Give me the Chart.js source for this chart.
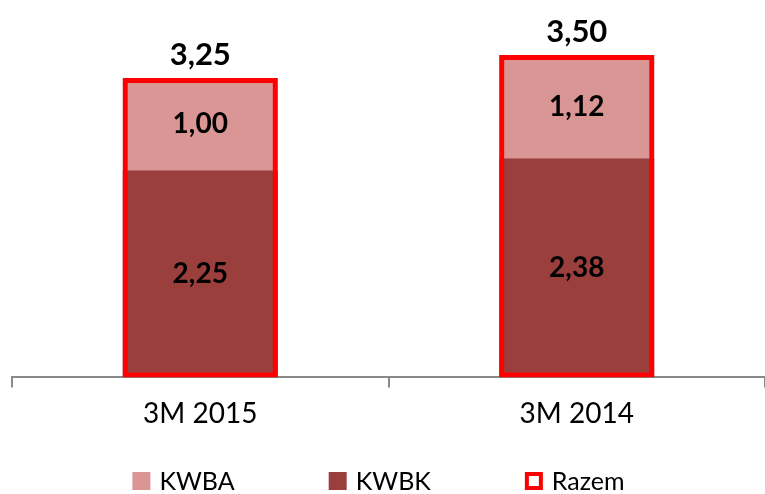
<!DOCTYPE html>
<html>
<head>
<meta charset="utf-8">
<script src="https://cdn.jsdelivr.net/npm/chart.js@4.4.1/dist/chart.umd.min.js"></script>
<style>
  html, body { margin: 0; padding: 0; background: #fff; }
  #wrap { width: 765px; height: 494px; }
</style>
</head>
<body>
<div id="wrap"><canvas id="chart"></canvas></div>
<script>
const categories = ["3M 2015", "3M 2014"];
const kwbkValues = [2.25, 2.38];
const kwbaValues = [1.00, 1.12];
const totalValues = [3.25, 3.50];
const legendOrder = ["KWBA", "KWBK", "Razem"];

const FONT = "Lato, 'Open Sans', sans-serif";
Chart.defaults.font.family = FONT;

function fmt(v) {
  return v.toFixed(2).replace(".", ",");
}

// value labels inside segments and totals above the red box
const valueLabels = {
  id: "valueLabels",
  afterDatasetsDraw(chart) {
    const ctx = chart.ctx;
    ctx.save();
    ctx.fillStyle = "#000";
    ctx.textAlign = "center";
    chart.data.datasets.forEach((ds, i) => {
      const meta = chart.getDatasetMeta(i);
      meta.data.forEach((bar, j) => {
        const v = ds.data[j];
        if (ds.label === "Razem") {
          ctx.font = "bold 31px " + FONT;
          ctx.textBaseline = "alphabetic";
          ctx.fillText(fmt(v), bar.x, bar.y - 13);
        } else {
          ctx.font = "bold 28px " + FONT;
          ctx.textBaseline = "middle";
          ctx.fillText(fmt(v), bar.x, (bar.y + bar.base) / 2);
        }
      });
    });
    ctx.restore();
  }
};

// legend drawn by hand so the wide gaps between items don't add height
const bottomLegend = {
  id: "bottomLegend",
  afterDraw(chart) {
    const ctx = chart.ctx;
    const box = 18, gap = 9, spacing = 94, cy = 481;
    ctx.save();
    ctx.font = "25px " + FONT;
    const items = legendOrder.map(name => {
      const ds = chart.data.datasets.find(d => d.label === name);
      return { ds: ds, w: box + gap + ctx.measureText(name).width };
    });
    const total = items.reduce((s, it) => s + it.w, 0) + spacing * (items.length - 1);
    let x = (chart.width - total) / 2 - 4;
    items.forEach(it => {
      const ds = it.ds;
      if (ds.borderWidth) {
        ctx.fillStyle = "#fff";
        ctx.fillRect(x, cy - box / 2, box, box);
        ctx.strokeStyle = ds.borderColor;
        ctx.lineWidth = 4;
        ctx.strokeRect(x + 2, cy - box / 2 + 2, box - 4, box - 4);
      } else {
        ctx.fillStyle = ds.backgroundColor;
        ctx.fillRect(x, cy - box / 2, box, box);
      }
      ctx.fillStyle = "#000";
      ctx.textAlign = "left";
      ctx.textBaseline = "middle";
      ctx.fillText(ds.label, x + box + gap, cy + 1);
      x += it.w + spacing;
    });
    ctx.restore();
  }
};

const barPct = 0.412;

new Chart("chart", {
  type: "bar",
  data: {
    labels: categories,
    datasets: [
      {
        label: "KWBK",
        data: kwbkValues,
        backgroundColor: "#9B3F3D",
        stack: "parts",
        order: 1,
        barPercentage: barPct,
        categoryPercentage: 1
      },
      {
        label: "KWBA",
        data: kwbaValues,
        backgroundColor: "#D99694",
        stack: "parts",
        order: 1,
        barPercentage: barPct,
        categoryPercentage: 1
      },
      {
        label: "Razem",
        data: totalValues,
        backgroundColor: "rgba(255,255,255,0)",
        borderColor: "#FF0000",
        borderWidth: 5,
        borderSkipped: false,
        stack: "total",
        grouped: false,
        order: 0,
        barPercentage: barPct,
        categoryPercentage: 1
      }
    ]
  },
  options: {
    responsive: true,
    maintainAspectRatio: false,
    animation: false,
    layout: { padding: { left: 12, right: 0, top: 9, bottom: 53 } },
    plugins: {
      legend: { display: false },
      tooltip: { enabled: false }
    },
    scales: {
      x: {
        stacked: true,
        grid: {
          offset: true,
          drawOnChartArea: false,
          drawTicks: true,
          tickLength: 10,
          color: "#898989",
          lineWidth: 2
        },
        border: { color: "#898989", width: 2 },
        ticks: { color: "#000", font: { size: 28 }, padding: 10 }
      },
      y: {
        stacked: true,
        display: false,
        min: 0,
        max: 4
      }
    }
  },
  plugins: [valueLabels, bottomLegend]
});
</script>
</body>
</html>
